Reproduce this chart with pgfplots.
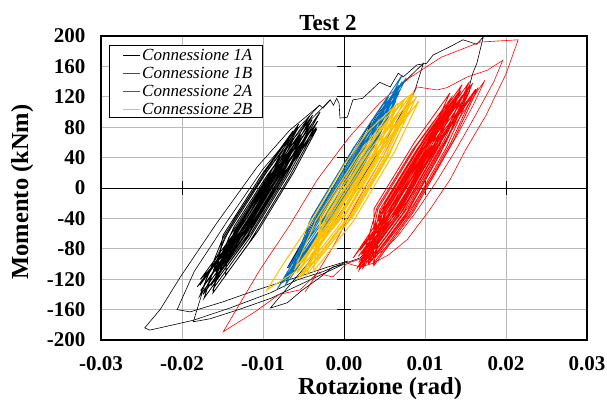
\documentclass[border=0pt]{standalone}
\usepackage{pgfplots}
\pgfplotsset{compat=1.18}
\usepackage{fontspec}
\setmainfont{Liberation Serif}
\definecolor{c1b}{RGB}{255,0,0}
\definecolor{c2a}{RGB}{0,112,192}
\definecolor{c2b}{RGB}{255,192,0}
\definecolor{gridc}{RGB}{185,185,185}
\begin{document}
\begin{tikzpicture}
\useasboundingbox (0,0) rectangle (607pt,401pt);
\begin{axis}[
  at={(101pt,61pt)}, anchor=south west,
  scale only axis, width=486pt, height=304pt,
  xmin=-0.03, xmax=0.03, ymin=-200, ymax=200,
  xtick={-0.03,-0.02,-0.01,0,0.01,0.02,0.03},
  xticklabels={-0.03,-0.02,-0.01,0.00,0.01,0.02,0.03},
  ytick={-200,-160,...,200},
  yticklabels={-200,-160,-120,-80,-40,0,40,80,120,160,200},
  scaled x ticks=false,
  tick style={draw=none},
  grid=major, major grid style={gridc, line width=0.8pt},
  axis line style={line width=1.6pt},
  ticklabel style={font=\fontsize{21}{24}\selectfont\bfseries},
  xticklabel style={yshift=-13pt},
  yticklabel style={xshift=-12pt},
  every axis plot/.append style={mark=none},
]
% zero axes with their small ticks
\draw[black, line width=0.8pt] (axis cs:0,-200) -- (axis cs:0,200);
\draw[black, line width=0.8pt] (axis cs:-0.03,0) -- (axis cs:0.03,0);
\pgfplotsinvokeforeach{-160,-120,-80,-40,40,80,120,160}{
  \draw[black, line width=0.8pt] ([xshift=-7pt]axis cs:0,#1) -- ([xshift=7pt]axis cs:0,#1);
}
\pgfplotsinvokeforeach{-0.02,-0.01,0.01,0.02}{
  \draw[black, line width=0.8pt] ([yshift=-7pt]axis cs:#1,0) -- ([yshift=7pt]axis cs:#1,0);
}

% Connessione 1A: big loop with jagged top
\addplot[draw=black, line width=0.6pt] coordinates {
(0.0172,199) (0.0164,164) (0.0159,151) (0.0155,135) (0.0148,115) (0.0125,70)
(0.0095,20) (0.0065,-30) (0.0040,-70) (0.0020,-92) (0.0007,-97) (-0.0001,-99)
(-0.0026,-110) (-0.0058,-121) (-0.0091,-138) (-0.0141,-158) (-0.0186,-174)
(-0.0223,-183) (-0.0240,-187) (-0.0246,-184) (-0.0227,-160) (-0.0202,-117)
(-0.0157,-46) (-0.0107,28) (-0.0067,76) (-0.0040,100) (-0.0030,109) (-0.0026,105)
(-0.0017,116) (-0.0013,109) (-0.0009,118) (-0.0006,111) (-0.0005,92) (0.0004,93)
(0.0011,116) (0.0023,118) (0.0044,139) (0.0057,133) (0.0067,151) (0.0073,146)
(0.0090,162) (0.0102,164) (0.0110,175) (0.0131,186) (0.0147,195) (0.0164,189)
(0.0172,199)
};
\addplot[draw=black, line width=0.6pt] coordinates {
(0.0005,-96) (-0.0020,-104) (-0.0060,-118) (-0.0110,-135) (-0.0150,-150)
(-0.0190,-163) (-0.0206,-160) (-0.0185,-110) (-0.0145,-45) (-0.0100,25)
(-0.0060,75) (-0.0030,109)
};
\addplot[draw=black, line width=0.6pt] coordinates {
(0.0000,-100) (-0.0030,-115) (-0.0090,-145) (-0.0130,-160) (-0.0165,-172)
(-0.0186,-176) (-0.0170,-120) (-0.0135,-40) (-0.0090,30) (-0.0050,80) (-0.0017,116)
};
% dense cycles
\addplot[draw=black, line width=0.8pt] coordinates {
(-0.01584,-110) (-0.01208,-56) (-0.00798,16) (-0.00531,70) (-0.00894,16) (-0.01328,-56)
(-0.01621,-125) (-0.01193,-62) (-0.00713,22) (-0.00393,85) (-0.00809,22) (-0.01313,-62)
(-0.01770,-135) (-0.01306,-66) (-0.00780,26) (-0.00424,95) (-0.00876,26) (-0.01426,-66)
(-0.01550,-118) (-0.01145,-59) (-0.00701,19) (-0.00404,78) (-0.00797,19) (-0.01265,-59)
(-0.01585,-100) (-0.01233,-50) (-0.00864,15) (-0.00620,65) (-0.00960,15) (-0.01353,-50)
(-0.01739,-140) (-0.01275,-71) (-0.00749,21) (-0.00394,90) (-0.00845,21) (-0.01395,-71)
(-0.01779,-128) (-0.01356,-66) (-0.00877,18) (-0.00562,80) (-0.00973,18) (-0.01476,-66)
(-0.01728,-145) (-0.01241,-72) (-0.00674,27) (-0.00295,100) (-0.00770,27) (-0.01361,-72)
(-0.01615,-112) (-0.01234,-57) (-0.00813,17) (-0.00539,72) (-0.00909,17) (-0.01354,-57)
(-0.01612,-132) (-0.01166,-66) (-0.00663,22) (-0.00325,88) (-0.00759,22) (-0.01286,-66)
(-0.01772,-120) (-0.01373,-62) (-0.00923,17) (-0.00631,75) (-0.01019,17) (-0.01493,-62)
(-0.01617,-138) (-0.01177,-73) (-0.00674,15) (-0.00342,80) (-0.00770,15) (-0.01297,-73)
(-0.01524,-105) (-0.01160,-53) (-0.00768,16) (-0.00512,68) (-0.00865,16) (-0.01280,-53)
(-0.01811,-130) (-0.01376,-66) (-0.00885,20) (-0.00559,84) (-0.00981,20) (-0.01496,-66)
(-0.01781,-142) (-0.01305,-71) (-0.00756,25) (-0.00388,96) (-0.00852,25) (-0.01425,-71)
(-0.01463,-115) (-0.01064,-57) (-0.00625,20) (-0.00334,78) (-0.00721,20) (-0.01184,-57)
(-0.01650,-128)
};
% early cycles near the origin
\addplot[draw=black, line width=0.6pt] coordinates {
(0,0) (0.0035,90) (0.0005,35) (-0.0035,-40) (-0.0070,-105) (-0.0040,-55) (0.0000,15)
(0.0040,95) (0.0070,135) (0.0098,164) (0.0088,130) (0.0050,60) (0.0000,-25)
(-0.0045,-100) (-0.0091,-158) (-0.0070,-151) (-0.0051,-134) (-0.0030,-118)
(-0.0014,-104) (-0.0002,-101)
};

% Connessione 1B: dense cycles
\addplot[draw=c1b, line width=0.8pt] coordinates {
(0.00228,-95) (0.00685,-30) (0.01133,55) (0.01410,120) (0.00973,55) (0.00485,-30)
(0.00233,-105) (0.00729,-33) (0.01237,63) (0.01553,135) (0.01077,63) (0.00529,-33)
(0.00216,-88) (0.00641,-29) (0.01061,51) (0.01305,110) (0.00901,51) (0.00441,-29)
(0.00300,-100) (0.00774,-32) (0.01260,60) (0.01554,128) (0.01100,60) (0.00574,-32)
(0.00199,-82) (0.00607,-26) (0.01000,49) (0.01228,105) (0.00840,49) (0.00407,-26)
(0.00186,-108) (0.00693,-34) (0.01223,66) (0.01550,140) (0.01063,66) (0.00493,-34)
(0.00384,-92) (0.00825,-30) (0.01262,53) (0.01523,115) (0.01101,53) (0.00625,-30)
(0.00181,-98) (0.00650,-31) (0.01119,58) (0.01408,125) (0.00959,58) (0.00450,-31)
(0.00369,-102) (0.00854,-32) (0.01351,62) (0.01656,132) (0.01191,62) (0.00654,-32)
(0.00175,-90) (0.00616,-28) (0.01058,56) (0.01319,118) (0.00898,56) (0.00416,-28)
(0.00302,-96) (0.00787,-26) (0.01284,68) (0.01589,138) (0.01124,68) (0.00587,-26)
(0.00188,-104) (0.00646,-39) (0.01099,47) (0.01376,112) (0.00939,47) (0.00446,-39)
(0.00114,-92) (0.00572,-27) (0.01030,60) (0.01308,125) (0.00870,60) (0.00372,-27)
(0.00360,-100) (0.00840,-31) (0.01326,61) (0.01625,130) (0.01166,61) (0.00640,-31)
(0.00268,-95) (0.00725,-30) (0.01184,57) (0.01461,122) (0.01024,57) (0.00525,-30)
(0.00237,-86) (0.00706,-19) (0.01170,69) (0.01458,136) (0.01010,69) (0.00506,-19)
(0.00321,-98) (0.00762,-36) (0.01193,46) (0.01454,108) (0.01033,46) (0.00562,-36)
(0.00157,-106) (0.00642,-36) (0.01139,58) (0.01444,128) (0.00979,58) (0.00442,-36)
(0.0020,-100)
};
% large cycles
\addplot[draw=c1b, line width=0.6pt] coordinates {
(0.0020,-105) (0.0055,-50) (0.0090,0) (0.0135,80) (0.0160,120) (0.0174,142)
(0.0160,110) (0.0140,70) (0.0115,25) (0.0090,-15) (0.0065,-55) (0.0040,-85)
(0.0020,-104) (0.0004,-99) (-0.0014,-117) (-0.0033,-112) (-0.0048,-137)
(-0.0035,-115) (-0.0015,-80) (0.0015,-20) (0.0050,45) (0.0075,100) (0.0090,133)
(0.0115,129) (0.0127,132) (0.0152,146) (0.0177,155) (0.0196,168) (0.0185,140)
(0.0162,95) (0.0138,50) (0.0115,10) (0.0090,-30) (0.0065,-65) (0.0045,-85)
(0.0035,-88) (0.0016,-95) (0.0004,-99) (-0.0014,-117) (-0.0033,-112)
(-0.0054,-134) (-0.0080,-140) (-0.0110,-163) (-0.0149,-189) (-0.0104,-108)
(-0.0067,-49) (-0.0033,11) (0.0005,65) (0.0044,112) (0.0081,145) (0.0120,172)
(0.0168,192) (0.0215,195) (0.0200,150) (0.0175,95) (0.0150,50) (0.0131,11)
(0.0105,-30) (0.0078,-68) (0.0055,-88) (0.0036,-99) (0.0020,-104)
};

% Connessione 2A
\addplot[draw=c2a, line width=0.8pt] coordinates {
(-0.00710,-120) (-0.00201,-42) (0.00355,62) (0.00720,140) (0.00227,62) (-0.00361,-42)
(-0.00615,-110) (-0.00150,-40) (0.00357,55) (0.00678,125) (0.00229,55) (-0.00310,-40)
(-0.00830,-134) (-0.00273,-46) (0.00322,65) (0.00720,149) (0.00194,65) (-0.00433,-46)
(-0.00540,-100) (-0.00103,-35) (0.00349,50) (0.00643,115) (0.00221,50) (-0.00263,-35)
(-0.00758,-125) (-0.00249,-47) (0.00308,57) (0.00673,135) (0.00180,57) (-0.00409,-47)
(-0.00663,-115) (-0.00154,-37) (0.00403,67) (0.00768,145) (0.00275,67) (-0.00314,-37)
(-0.00688,-105) (-0.00239,-38) (0.00246,53) (0.00550,120) (0.00118,53) (-0.00399,-38)
(-0.00724,-128) (-0.00221,-51) (0.00336,53) (0.00695,130) (0.00208,53) (-0.00381,-51)
(-0.0070,-120)
};

% Connessione 2B
\addplot[draw=c2b, line width=1pt] coordinates {
(-0.0030,-80) (-0.0060,-110) (-0.0095,-134) (-0.0075,-100) (-0.0050,-60) (-0.0025,-15)
(0.0000,30) (0.0030,75) (0.0060,105) (0.0085,125) (0.0065,80) (0.0035,30) (0.0000,-30)
(-0.0035,-85)
(-0.00576,-120) (-0.00037,-46) (0.00504,51) (0.00845,125) (0.00328,51) (-0.00257,-46)
(-0.00429,-105) (0.00058,-40) (0.00529,45) (0.00818,110) (0.00353,45) (-0.00162,-40)
(-0.00580,-112) (-0.00069,-43) (0.00442,49) (0.00754,118) (0.00266,49) (-0.00289,-43)
(-0.00331,-95) (0.00121,-36) (0.00546,41) (0.00800,100) (0.00370,41) (-0.00099,-36)
(-0.00534,-118) (-0.00007,-46) (0.00528,50) (0.00858,122) (0.00352,50) (-0.00227,-46)
(-0.00540,-100) (-0.00070,-38) (0.00377,43) (0.00649,105) (0.00201,43) (-0.00290,-38)
(-0.00378,-110) (0.00126,-42) (0.00621,47) (0.00927,115) (0.00445,47) (-0.00094,-42)
(-0.00422,-90) (0.00013,-34) (0.00414,39) (0.00651,95) (0.00238,39) (-0.00207,-34)
(-0.00467,-115) (0.00055,-44) (0.00572,49) (0.00896,120) (0.00396,49) (-0.00165,-44)
(-0.00616,-108) (-0.00129,-43) (0.00347,43) (0.00636,108) (0.00171,43) (-0.00349,-43)
(-0.0060,-105)
};
\end{axis}
% legend box
\draw[black, line width=0.6pt, fill=white] (109pt,284pt) rectangle (262pt,356pt);
\draw[black, line width=0.9pt] (123pt,346pt) -- (140pt,346pt);
\draw[c1b, line width=0.9pt] (123pt,328pt) -- (140pt,328pt);
\draw[c2a, line width=0.9pt] (123pt,310pt) -- (140pt,310pt);
\draw[c2b, line width=0.9pt] (123pt,292pt) -- (140pt,292pt);
\begin{scope}[every node/.style={anchor=west, inner sep=0pt, font=\fontsize{17}{19}\selectfont\itshape}]
\node at (142pt,346pt) {Connessione 1A};
\node at (142pt,328pt) {Connessione 1B};
\node at (142pt,310pt) {Connessione 2A};
\node at (142pt,292pt) {Connessione 2B};
\end{scope}
\node at (328pt,378pt) {\fontsize{23}{26}\selectfont\bfseries Test 2};
\node[anchor=base] at (380pt,6pt) {\fontsize{24.5}{28}\selectfont\bfseries Rotazione (rad)};
\node[anchor=base, rotate=90] at (28pt,209pt) {\fontsize{24.5}{28}\selectfont\bfseries Momento (kNm)};
\end{tikzpicture}
\end{document}
